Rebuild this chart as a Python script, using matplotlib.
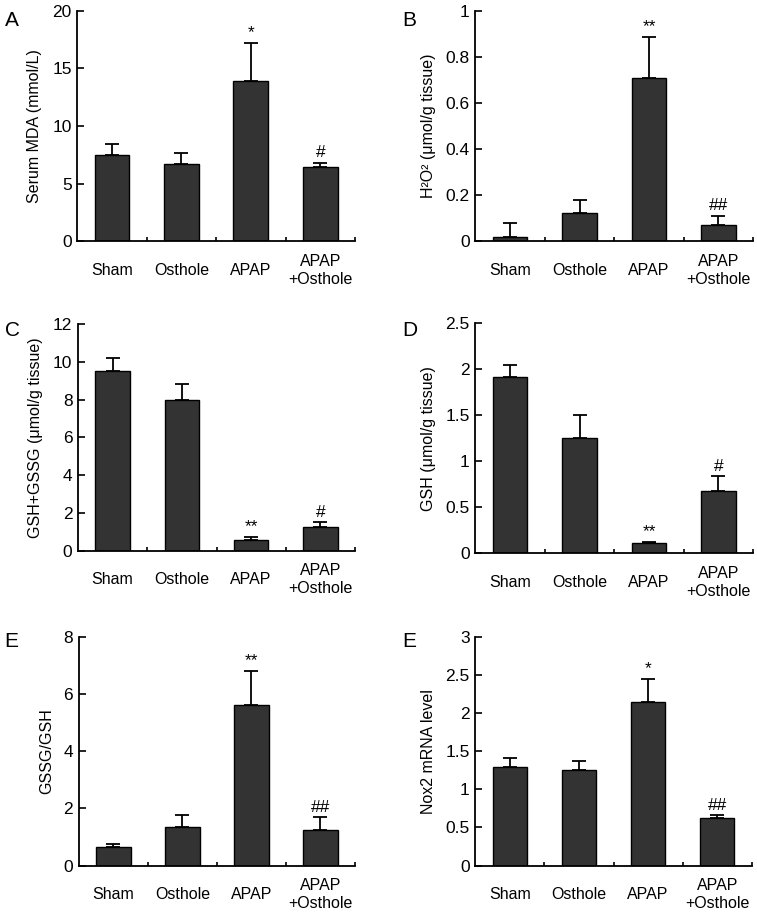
import numpy as np
import matplotlib
matplotlib.use('Agg')
import matplotlib.pyplot as plt

plt.rcParams['font.family'] = ['Liberation Sans', 'DejaVu Sans']

# Groups shared by all panels
groups = ['Sham', 'Osthole', 'APAP', 'APAP\n+Osthole']

# Panel A: serum MDA
mda_mean = [7.5, 6.7, 13.95, 6.4]
mda_err = [0.95, 0.95, 3.25, 0.42]
# Panel B: H2O2
h2o2_mean = [0.016, 0.12, 0.71, 0.068]
h2o2_err = [0.064, 0.06, 0.178, 0.042]
# Panel C: GSH+GSSG
total_mean = [9.5, 8.0, 0.56, 1.24]
total_err = [0.72, 0.8, 0.16, 0.26]
# Panel D: GSH
gsh_mean = [1.92, 1.25, 0.11, 0.675]
gsh_err = [0.13, 0.25, 0.01, 0.16]
# Panel E: GSSG/GSH
ratio_mean = [0.64, 1.34, 5.63, 1.23]
ratio_err = [0.11, 0.42, 1.2, 0.46]
# Panel F: Nox2 mRNA
nox2_mean = [1.29, 1.26, 2.15, 0.63]
nox2_err = [0.12, 0.11, 0.3, 0.03]

panels = [
    ('A', mda_mean, mda_err, 'Serum MDA (mmol/L)', (0, 20), [0, 5, 10, 15, 20],
     ['0', '5', '10', '15', '20'], ['', '', '*', '#']),
    ('B', h2o2_mean, h2o2_err, 'H²O² (μmol/g tissue)', (0, 1), [0, 0.2, 0.4, 0.6, 0.8, 1],
     ['0', '0.2', '0.4', '0.6', '0.8', '1'], ['', '', '**', '##']),
    ('C', total_mean, total_err, 'GSH+GSSG (μmol/g tissue)', (0, 12), [0, 2, 4, 6, 8, 10, 12],
     ['0', '2', '4', '6', '8', '10', '12'], ['', '', '**', '#']),
    ('D', gsh_mean, gsh_err, 'GSH (μmol/g tissue)', (0, 2.5), [0, 0.5, 1, 1.5, 2, 2.5],
     ['0', '0.5', '1', '1.5', '2', '2.5'], ['', '', '**', '#']),
    ('E', ratio_mean, ratio_err, 'GSSG/GSH', (0, 8), [0, 2, 4, 6, 8],
     ['0', '2', '4', '6', '8'], ['', '', '**', '##']),
    ('E', nox2_mean, nox2_err, 'Nox2 mRNA level', (0, 3), [0, 0.5, 1, 1.5, 2, 2.5, 3],
     ['0', '0.5', '1', '1.5', '2', '2.5', '3'], ['', '', '*', '##']),
]

# axes rectangles in figure fractions [left, bottom, width, height]
rects = [
    [0.102, 0.736, 0.367, 0.252],
    [0.628, 0.736, 0.367, 0.252],
    [0.103, 0.397, 0.366, 0.248],
    [0.628, 0.394, 0.367, 0.252],
    [0.104, 0.052, 0.365, 0.25],
    [0.628, 0.052, 0.365, 0.25],
]
letter_pos = [(0.006, 0.988), (0.532, 0.988), (0.006, 0.648), (0.532, 0.648),
              (0.006, 0.308), (0.532, 0.308)]

fig = plt.figure(figsize=(7.57, 9.13), dpi=100)
x = np.arange(len(groups))

for (letter, mean, err, ylabel, ylim, yt, ytl, marks), rect, lp in zip(panels, rects, letter_pos):
    ax = fig.add_axes(rect)
    ax.bar(x, mean, width=0.5, color='#333333', edgecolor='black', linewidth=1.0, zorder=2)
    ax.errorbar(x, mean, yerr=[np.zeros(len(err)), err], fmt='none', ecolor='black',
                elinewidth=1.3, capsize=5, capthick=1.3, zorder=3)
    top = ylim[1]
    for xi, m, e, s in zip(x, mean, err, marks):
        if s:
            ax.text(xi, m + e + top * 0.012, s, ha='center', va='bottom', fontsize=12.5)
    ax.set_xlim(-0.5, 3.5)
    ax.set_ylim(*ylim)
    ax.set_yticks(yt)
    ax.set_yticklabels(ytl, fontsize=12.5)
    ax.set_xticks(x)
    ax.set_xticklabels(groups, fontsize=11.5, va='center', linespacing=1.25)
    ax.set_xticks([0.5, 1.5, 2.5, 3.5], minor=True)
    ax.tick_params(axis='x', which='major', length=0, pad=21)
    ax.tick_params(axis='x', which='minor', direction='in', length=3, width=1.2)
    ax.tick_params(axis='y', direction='in', length=5, width=1.2, pad=4)
    for side in ['top', 'right']:
        ax.spines[side].set_visible(False)
    for side in ['left', 'bottom']:
        ax.spines[side].set_linewidth(1.3)
    ax.set_ylabel(ylabel, fontsize=11.5, labelpad=7)
    fig.text(lp[0], lp[1], letter, fontsize=15, ha='left', va='top')

fig.savefig('out.png', dpi=100)
